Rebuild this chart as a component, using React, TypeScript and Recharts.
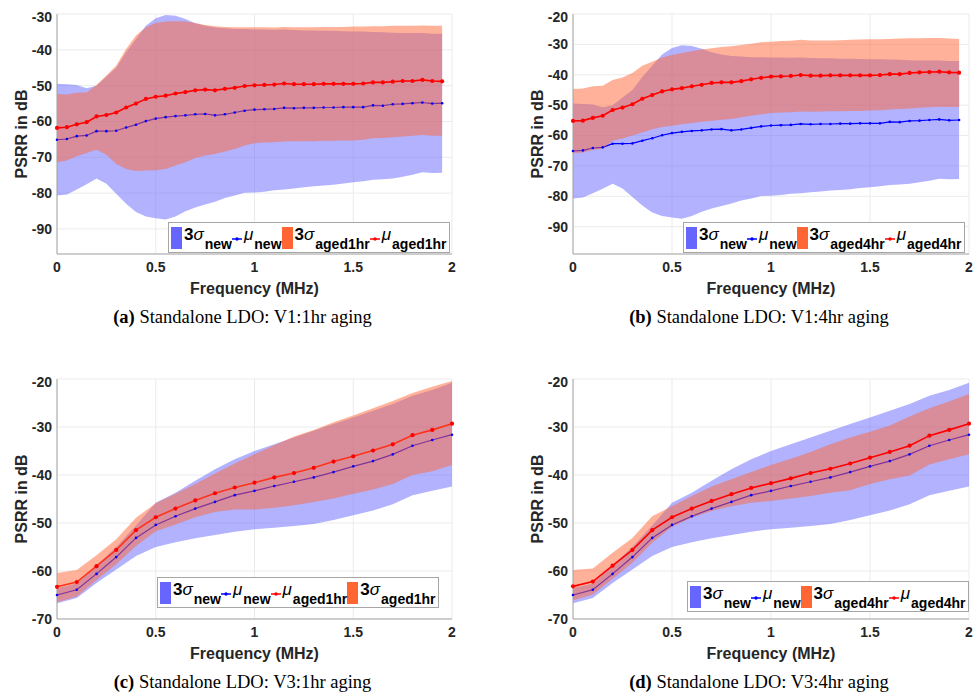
import { ComposedChart, Area, Line, XAxis, YAxis, CartesianGrid } from "recharts"

const SANS = "'Liberation Sans', Arial, Helvetica, sans-serif"
const SERIF = "'Liberation Serif', 'Times New Roman', serif"
const BLUE = "#6666ff"
const ORANGE = "#ff6633"
const AXIS = "#a6a6a6"

// frequency grids (MHz)
const freqV1 = [0, 0.05, 0.1, 0.15, 0.2, 0.25, 0.3, 0.35, 0.4, 0.45, 0.5, 0.55, 0.6, 0.65, 0.7, 0.75, 0.8, 0.85, 0.9, 0.95,
  1, 1.05, 1.1, 1.15, 1.2, 1.25, 1.3, 1.35, 1.4, 1.45, 1.5, 1.55, 1.6, 1.65, 1.7, 1.75, 1.8, 1.85, 1.9, 1.95]
const freqV3 = [0, 0.1, 0.2, 0.3, 0.4, 0.5, 0.6, 0.7, 0.8, 0.9, 1, 1.1, 1.2, 1.3, 1.4, 1.5, 1.6, 1.7, 1.8, 1.9, 2]

const xTicks = [0, 0.5, 1, 1.5, 2]
const yTicksV1a = [-90, -80, -70, -60, -50, -40, -30]
const yTicksV1b = [-90, -80, -70, -60, -50, -40, -30, -20]
const yTicksV3 = [-70, -60, -50, -40, -30, -20]

// V1, new device
const v1NewMu = [-65.1, -64.9, -64.1, -63.9, -62.7, -62.7, -62.6, -61.7, -60.9, -59.9, -59.2, -58.8, -58.5, -58.3, -58.0, -57.9, -58.3, -58.0, -57.5, -57.0,
  -56.7, -56.6, -56.5, -56.2, -56.3, -56.2, -56.2, -56.1, -56.1, -56.0, -56.0, -56.0, -55.5, -55.6, -55.2, -55.1, -54.9, -54.7, -55.0, -54.9]
const v1NewHi = [-49.5, -49.6, -49.8, -50.7, -50.0, -47.5, -45.0, -40.7, -37.0, -33.3, -31.2, -30.3, -30.5, -31.4, -32.6, -33.3, -33.8, -34.0, -34.2, -34.2,
  -34.3, -34.3, -34.4, -34.3, -34.5, -34.6, -34.6, -34.7, -34.7, -34.8, -34.9, -34.9, -35.0, -35.1, -35.2, -35.3, -35.3, -35.3, -35.5, -35.5]
const v1NewLo = [-80.7, -80.4, -79.0, -77.5, -75.9, -77.4, -80.2, -83.0, -85.3, -86.5, -87.0, -87.4, -86.5, -85.1, -84.0, -83.2, -82.4, -81.4, -80.7, -79.9,
  -79.8, -79.6, -79.2, -79.0, -78.7, -78.4, -78.1, -77.9, -77.7, -77.3, -77.0, -76.7, -76.3, -76.1, -75.9, -75.4, -74.9, -74.2, -74.4, -74.3]

// V1, 1hr aged
const v1Aged1Mu = [-61.8, -61.6, -60.8, -60.2, -58.6, -58.2, -57.5, -56.1, -55.0, -53.7, -53.1, -52.8, -52.2, -51.8, -51.3, -51.1, -51.3, -50.9, -50.6, -50.1,
  -49.9, -49.8, -49.7, -49.4, -49.6, -49.6, -49.6, -49.5, -49.5, -49.5, -49.5, -49.4, -49.1, -49.1, -48.9, -48.7, -48.7, -48.4, -48.7, -48.8]
const v1Aged1Hi = [-52.3, -52.5, -52.0, -51.9, -49.8, -47.2, -44.4, -39.8, -36.0, -33.7, -32.5, -32.1, -32.0, -32.1, -32.5, -33.1, -33.4, -33.6, -33.7, -33.7,
  -33.7, -33.7, -33.8, -33.6, -33.7, -33.7, -33.7, -33.6, -33.6, -33.6, -33.5, -33.5, -33.4, -33.4, -33.3, -33.3, -33.3, -33.2, -33.3, -33.3]
const v1Aged1Lo = [-71.4, -70.9, -69.7, -68.8, -67.9, -69.3, -71.9, -73.3, -73.8, -73.7, -73.6, -73.3, -72.3, -71.4, -70.2, -69.5, -69.1, -68.4, -67.7, -66.7,
  -66.1, -65.9, -65.8, -65.6, -65.5, -65.5, -65.5, -65.4, -65.4, -65.3, -65.3, -65.1, -64.7, -64.6, -64.4, -64.2, -64.0, -63.8, -64.0, -64.0]

// V1, 4hr aged
const v1Aged4Mu = [-55.2, -55.1, -54.2, -53.5, -51.6, -50.8, -49.7, -47.9, -46.7, -45.5, -44.8, -44.4, -43.8, -43.3, -42.7, -42.5, -42.5, -42.1, -41.5, -41.0,
  -40.6, -40.5, -40.4, -40.1, -40.3, -40.3, -40.2, -40.2, -40.2, -40.2, -40.2, -40.1, -39.8, -39.8, -39.4, -39.2, -39.1, -39.0, -39.2, -39.3]
const v1Aged4Hi = [-44.7, -44.5, -43.8, -43.6, -41.7, -40.9, -39.4, -37.0, -35.7, -34.3, -33.5, -32.8, -32.3, -31.7, -31.3, -30.9, -30.6, -30.2, -29.8, -29.3,
  -29.1, -28.9, -28.8, -28.5, -28.7, -28.7, -28.7, -28.6, -28.5, -28.4, -28.3, -28.3, -28.2, -28.1, -28.0, -28.0, -27.9, -27.9, -28.1, -28.2]
const v1Aged4Lo = [-65.8, -65.6, -64.8, -64.3, -61.7, -61.0, -60.0, -59.0, -57.9, -57.2, -56.8, -56.3, -55.9, -55.5, -55.1, -54.8, -54.6, -54.0, -53.5, -53.0,
  -52.6, -52.4, -52.3, -52.1, -52.2, -52.1, -52.0, -52.0, -51.9, -51.9, -51.8, -51.7, -51.4, -51.3, -51.1, -50.9, -50.7, -50.5, -50.6, -50.5]

// V3, new device
const v3NewMu = [-65.0, -63.9, -60.6, -57.1, -53.1, -50.4, -48.6, -47.0, -45.6, -44.2, -43.3, -42.3, -41.4, -40.5, -39.4, -38.2, -37.1, -35.7, -33.9, -32.7, -31.6]
const v3NewHi = [-63.6, -62.6, -58.8, -55.0, -50.5, -45.8, -43.7, -41.2, -38.8, -36.7, -35.0, -33.6, -32.2, -30.8, -29.4, -28.0, -26.6, -25.2, -23.5, -22.3, -20.8]
const v3NewLo = [-66.7, -65.6, -62.5, -59.7, -56.9, -55.0, -54.0, -53.2, -52.5, -51.8, -51.3, -51.0, -50.6, -50.2, -49.4, -48.4, -47.4, -46.1, -44.2, -43.3, -42.4]

// V3, 1hr aged
const v3Aged1Mu = [-63.3, -62.3, -59.0, -55.6, -51.5, -48.8, -47.0, -45.3, -43.8, -42.6, -41.6, -40.5, -39.6, -38.5, -37.2, -36.1, -34.9, -33.6, -31.7, -30.6, -29.3]
const v3Aged1Hi = [-60.4, -59.8, -56.7, -53.4, -48.9, -45.9, -43.9, -41.9, -39.7, -37.6, -35.7, -33.8, -32.0, -30.6, -29.0, -27.6, -26.1, -24.6, -22.9, -21.6, -20.4]
const v3Aged1Lo = [-66.5, -65.3, -61.9, -58.6, -54.8, -51.7, -50.3, -48.8, -47.7, -47.2, -47.2, -46.8, -46.3, -45.6, -44.9, -43.9, -43.0, -41.9, -40.0, -39.2, -37.9]

// V3, 4hr aged
const v3Aged4Mu = [-63.2, -62.2, -58.9, -55.6, -51.5, -48.8, -47.0, -45.4, -44.0, -42.7, -41.7, -40.7, -39.6, -38.7, -37.6, -36.4, -35.2, -33.9, -31.8, -30.6, -29.3]
const v3Aged4Hi = [-59.8, -59.5, -56.2, -53.1, -48.6, -46.5, -44.4, -42.4, -40.9, -39.4, -37.9, -36.6, -35.2, -33.6, -32.2, -31.0, -29.7, -27.8, -26.1, -24.7, -23.1]
const v3Aged4Lo = [-66.1, -64.9, -61.6, -58.3, -54.1, -50.8, -48.9, -47.5, -46.5, -45.8, -45.4, -44.9, -44.4, -43.7, -43.2, -41.9, -40.9, -40.1, -37.8, -36.7, -35.7]

type Row = { f: number; newBand: number[]; newMu: number; agedBand: number[]; agedMu: number }

function buildRows(freq: number[], nLo: number[], nHi: number[], nMu: number[], aLo: number[], aHi: number[], aMu: number[]): Row[] {
  return freq.map((f, i) => ({
    f,
    newBand: [nLo[i], nHi[i]],
    newMu: nMu[i],
    agedBand: [aLo[i], aHi[i]],
    agedMu: aMu[i],
  }))
}

type Rect = { left: number; top: number; right: number; bottom: number }
type LegendItem = { kind: "band" | "line"; color: string; sub: string }

function LegendBox({ left, top, items }: { left: number; top: number; items: LegendItem[] }) {
  return (
    <div
      style={{
        position: "absolute", left, top, height: 31, boxSizing: "border-box",
        border: `1px solid ${AXIS}`, background: "#fff", display: "flex", alignItems: "center",
        padding: "0 2px", fontFamily: SANS, fontWeight: 700, color: "#000", whiteSpace: "nowrap",
      }}
    >
      {items.map((it, i) => (
        <div key={i} style={{ display: "flex", alignItems: "center" }}>
          {it.kind === "band" ? (
            <span style={{ display: "inline-block", width: 11, height: 22, background: it.color }} />
          ) : (
            <svg width={10} height={8} style={{ marginTop: 2 }}>
              <line x1={0} y1={4} x2={10} y2={4} stroke={it.color} strokeWidth={1.5} />
              <circle cx={5} cy={4} r={1.7} fill={it.color} />
            </svg>
          )}
          <span style={{ fontSize: 17, marginLeft: 2, position: "relative", top: -3 }}>
            {it.kind === "band" ? <>3<i style={{ fontWeight: 400 }}>σ</i></> : <i style={{ fontWeight: 400 }}>μ</i>}
          </span>
          <span style={{ fontSize: 14, position: "relative", top: 6, marginLeft: 1 }}>{it.sub}</span>
        </div>
      ))}
    </div>
  )
}

type PanelProps = {
  plot: Rect
  rows: Row[]
  yDomain: number[]
  yTicks: number[]
  agedLineUnderBand?: boolean
  legend: LegendItem[]
  legendPos: { left: number; top: number }
  tag: string
  caption: string
  captionY: number
}

function Panel({ plot, rows, yDomain, yTicks, agedLineUnderBand, legend, legendPos, tag, caption, captionY }: PanelProps) {
  const yw = 45
  const xh = 30
  const pad = 5
  const x0 = plot.left - yw - pad
  const y0 = plot.top - pad
  const W = plot.right - x0 + pad
  const H = plot.bottom - y0 + xh + pad
  const cx = (plot.left + plot.right) / 2
  const cy = (plot.top + plot.bottom) / 2
  const tickStyle = { fill: "#262626", fontSize: 14, fontWeight: 700, fontFamily: SANS }

  const newArea = (
    <Area key="nb" type="linear" dataKey="newBand" stroke="none" fill={BLUE} fillOpacity={0.5}
      isAnimationActive={false} zIndex={100} />
  )
  const newLine = (
    <Line key="nl" type="linear" dataKey="newMu" stroke="#0000ff" strokeWidth={1.2}
      dot={{ r: 1.3, fill: "#0000ff", stroke: "#0000ff", strokeWidth: 0 }} activeDot={false}
      isAnimationActive={false} zIndex={150} />
  )
  const agedArea = (
    <Area key="ab" type="linear" dataKey="agedBand" stroke="none" fill={ORANGE} fillOpacity={0.5}
      isAnimationActive={false} zIndex={agedLineUnderBand ? 250 : 200} />
  )
  const agedLine = (
    <Line key="al" type="linear" dataKey="agedMu" stroke="#ff0000" strokeWidth={1.6}
      dot={{ r: 2.1, fill: "#ff0000", stroke: "#ff0000", strokeWidth: 0 }} activeDot={false}
      isAnimationActive={false} zIndex={agedLineUnderBand ? 200 : 250} />
  )
  const series = agedLineUnderBand ? [newArea, newLine, agedLine, agedArea] : [newArea, newLine, agedArea, agedLine]

  return (
    <>
      <div style={{ position: "absolute", left: x0, top: y0 }}>
        <ComposedChart width={W} height={H} data={rows} margin={{ top: pad, right: pad, bottom: pad, left: pad }}>
          <CartesianGrid stroke="#ebebeb" strokeWidth={1} />
          <XAxis dataKey="f" type="number" domain={[0, 2]} ticks={xTicks} height={xh}
            axisLine={{ stroke: AXIS }} tickLine={false} tickSize={3} tickMargin={5} tick={tickStyle} />
          <YAxis type="number" domain={yDomain} ticks={yTicks} width={yw} allowDataOverflow
            axisLine={{ stroke: AXIS }} tickLine={false} tickSize={3} tickMargin={2} tick={tickStyle} />
          <XAxis xAxisId="top" orientation="top" type="number" domain={[0, 2]} height={0}
            tick={false} tickLine={false} axisLine={{ stroke: AXIS }} />
          <YAxis yAxisId="right" orientation="right" type="number" domain={yDomain} width={0}
            tick={false} tickLine={false} axisLine={{ stroke: AXIS }} />
          {series}
        </ComposedChart>
      </div>
      <LegendBox left={legendPos.left} top={legendPos.top} items={legend} />
      <div style={{
        position: "absolute", left: plot.left - 35, top: cy, transform: "translate(-50%, -50%) rotate(-90deg)",
        fontFamily: SANS, fontWeight: 700, fontSize: 16, color: "#262626", whiteSpace: "nowrap", lineHeight: "18px",
      }}>
        PSRR in dB
      </div>
      <div style={{
        position: "absolute", left: cx, top: plot.bottom + 35, transform: "translate(-50%, -50%)",
        fontFamily: SANS, fontWeight: 700, fontSize: 16, color: "#262626", whiteSpace: "nowrap", lineHeight: "18px",
      }}>
        Frequency (MHz)
      </div>
      <div style={{
        position: "absolute", left: cx - 12, top: captionY, transform: "translate(-50%, -50%)",
        fontFamily: SERIF, fontSize: 18.5, color: "#000", whiteSpace: "nowrap", lineHeight: "20px",
      }}>
        <b>{tag}</b> {caption}
      </div>
    </>
  )
}

const legendNew: LegendItem[] = [
  { kind: "band", color: BLUE, sub: "new" },
  { kind: "line", color: "#0000ff", sub: "new" },
]

const rowsA = buildRows(freqV1, v1NewLo, v1NewHi, v1NewMu, v1Aged1Lo, v1Aged1Hi, v1Aged1Mu)
const rowsB = buildRows(freqV1, v1NewLo, v1NewHi, v1NewMu, v1Aged4Lo, v1Aged4Hi, v1Aged4Mu)
const rowsC = buildRows(freqV3, v3NewLo, v3NewHi, v3NewMu, v3Aged1Lo, v3Aged1Hi, v3Aged1Mu)
const rowsD = buildRows(freqV3, v3NewLo, v3NewHi, v3NewMu, v3Aged4Lo, v3Aged4Hi, v3Aged4Mu)

export default function App() {
  return (
    <div style={{ position: "absolute", left: 0, top: 0, width: 979, height: 697, background: "#fff", overflow: "hidden" }}>
      <Panel
        plot={{ left: 57, top: 14, right: 452, bottom: 254 }}
        rows={rowsA} yDomain={[-97, -30]} yTicks={yTicksV1a}
        legend={[...legendNew, { kind: "band", color: ORANGE, sub: "aged1hr" }, { kind: "line", color: "#ff0000", sub: "aged1hr" }]}
        legendPos={{ left: 168, top: 222 }}
        tag="(a)" caption="Standalone LDO: V1:1hr aging" captionY={317}
      />
      <Panel
        plot={{ left: 573, top: 14, right: 969, bottom: 254 }}
        rows={rowsB} yDomain={[-99, -20]} yTicks={yTicksV1b}
        legend={[...legendNew, { kind: "band", color: ORANGE, sub: "aged4hr" }, { kind: "line", color: "#ff0000", sub: "aged4hr" }]}
        legendPos={{ left: 683, top: 222 }}
        tag="(b)" caption="Standalone LDO: V1:4hr aging" captionY={317}
      />
      <Panel
        plot={{ left: 57, top: 379, right: 452, bottom: 619 }}
        rows={rowsC} yDomain={[-70, -20]} yTicks={yTicksV3} agedLineUnderBand
        legend={[...legendNew, { kind: "line", color: "#ff0000", sub: "aged1hr" }, { kind: "band", color: ORANGE, sub: "aged1hr" }]}
        legendPos={{ left: 157, top: 577 }}
        tag="(c)" caption="Standalone LDO: V3:1hr aging" captionY={682}
      />
      <Panel
        plot={{ left: 573, top: 379, right: 969, bottom: 619 }}
        rows={rowsD} yDomain={[-70, -20]} yTicks={yTicksV3}
        legend={[...legendNew, { kind: "band", color: ORANGE, sub: "aged4hr" }, { kind: "line", color: "#ff0000", sub: "aged4hr" }]}
        legendPos={{ left: 687, top: 581 }}
        tag="(d)" caption="Standalone LDO: V3:4hr aging" captionY={682}
      />
    </div>
  )
}
